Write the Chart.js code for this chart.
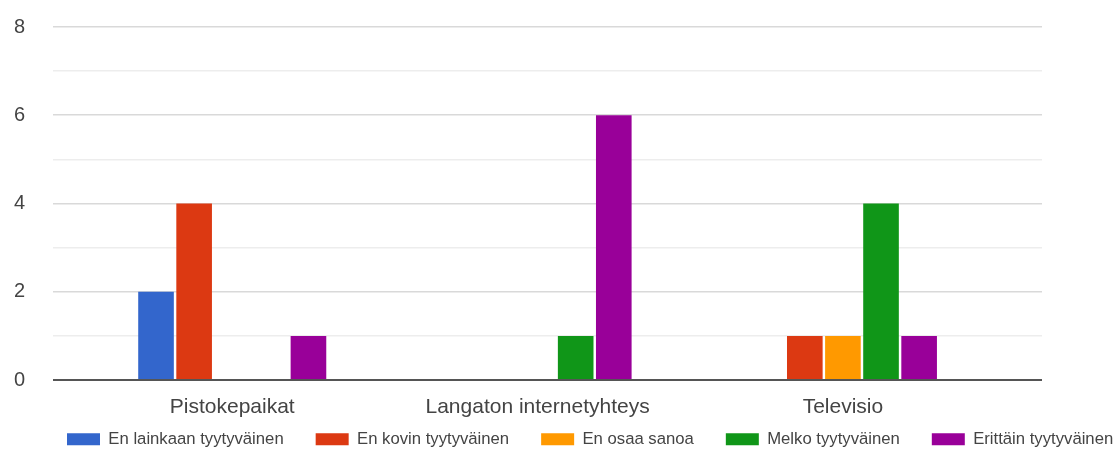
<!DOCTYPE html>
<html>
<head>
<meta charset="utf-8">
<script src="https://cdn.jsdelivr.net/npm/chart.js@4/dist/chart.umd.min.js"></script>
<style>
  html, body { margin: 0; padding: 0; background: #ffffff; }
  #wrap { width: 1118px; height: 450px; position: relative; }
</style>
</head>
<body>
<div id="wrap"><canvas id="chart"></canvas></div>
<script>
// Survey answers per amenity
const categories = ['Pistokepaikat', 'Langaton internetyhteys', 'Televisio'];
const seriesNames = [
  'En lainkaan tyytyväinen',
  'En kovin tyytyväinen',
  'En osaa sanoa',
  'Melko tyytyväinen',
  'Erittäin tyytyväinen'
];
const enLainkaan = [2, 0, 0];
const enKovin    = [4, 0, 1];
const enOsaa     = [0, 0, 1];
const melko      = [0, 1, 4];
const erittain   = [1, 6, 1];
const yTickLabels = [0, 2, 4, 6, 8];

const seriesValues = [enLainkaan, enKovin, enOsaa, melko, erittain];
const seriesColors = ['#3366cc', '#dc3912', '#ff9900', '#109618', '#990099'];
const FONT = "Arial, 'Liberation Sans', sans-serif";

// Bars sit on a numeric x axis (0, 1, 2) so the plot can run wider than the category bands
const datasets = seriesNames.map((name, s) => ({
  label: name,
  data: seriesValues[s].map((v, i) => ({ x: i, y: v })),
  backgroundColor: seriesColors[s],
  borderWidth: 0,
  categoryPercentage: 0.624,
  barPercentage: 0.935
}));

// Legend placement under the axis labels
const legendPlacement = {
  id: 'legendPlacement',
  afterLayout(chart) {
    const lg = chart.legend;
    lg.left = 35;
    lg.right = chart.width + 300;
    lg.top = 399;
  }
};

new Chart(document.getElementById('chart'), {
  type: 'bar',
  data: { datasets },
  plugins: [legendPlacement],
  options: {
    responsive: true,
    maintainAspectRatio: false,
    animation: false,
    layout: { padding: { left: 14, right: 76, top: 27, bottom: 0 } },
    plugins: {
      tooltip: { enabled: false },
      legend: {
        position: 'bottom',
        align: 'start',
        maxHeight: 31,
        labels: {
          boxWidth: 33,
          boxHeight: 12,
          padding: 32,
          color: '#444444',
          font: { family: FONT, size: 16.7 }
        }
      }
    },
    scales: {
      x: {
        type: 'linear',
        offset: false,
        min: -0.587,
        max: 2.652,
        afterBuildTicks(scale) {
          scale.ticks = categories.map((_, i) => ({ value: i }));
        },
        afterFit(scale) {
          scale.paddingLeft = 0;
          scale.paddingRight = 0;
          scale.height = 39;
        },
        ticks: {
          autoSkip: false,
          maxRotation: 0,
          padding: 15,
          color: '#444444',
          font: { family: FONT, size: 21 },
          callback: (v) => categories[v] !== undefined ? categories[v] : ''
        },
        grid: { display: false, drawTicks: false, offset: false },
        border: { display: false }
      },
      y: {
        min: 0,
        max: 8,
        afterFit(scale) {
          scale.width = 39;
          scale.paddingTop = 0;
          scale.paddingBottom = 0;
        },
        ticks: {
          stepSize: 1,
          padding: 28,
          color: '#444444',
          font: { family: FONT, size: 20 },
          callback: (v) => yTickLabels.includes(v) ? String(v) : ''
        },
        grid: {
          drawTicks: false,
          color: (ctx) => ctx.tick.value === 0 ? '#555555'
            : (ctx.tick.value % 2 === 0 ? '#d9d9d9' : '#ededed'),
          lineWidth: (ctx) => ctx.tick.value === 0 ? 2 : 1.6
        },
        border: { display: false }
      }
    }
  }
});
</script>
</body>
</html>
